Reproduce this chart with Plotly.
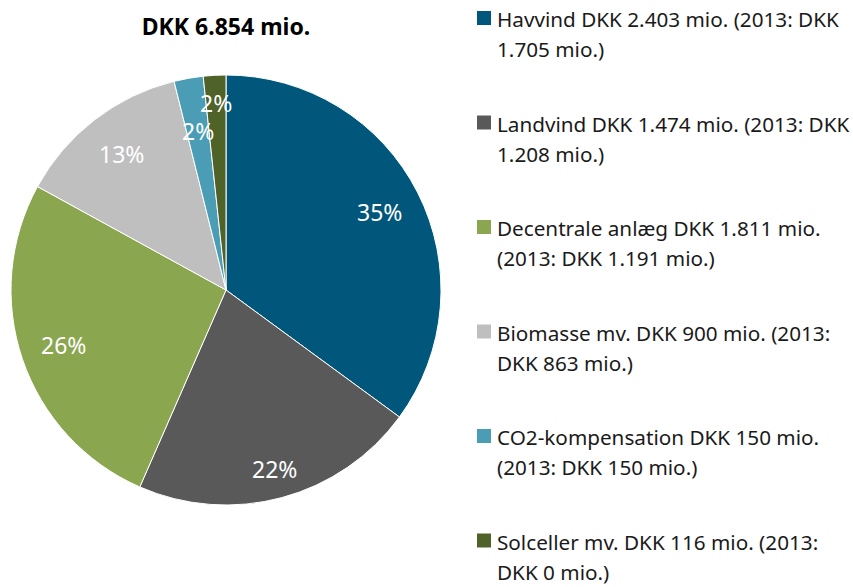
import math
import textwrap
import plotly.graph_objects as go

names = ["Havvind", "Landvind", "Decentrale anlæg", "Biomasse mv.",
         "CO2-kompensation", "Solceller mv."]
values_2014 = [2403, 1474, 1811, 900, 150, 116]
values_2013 = [1705, 1208, 1191, 863, 150, 0]
colors = ["#00577b", "#595959", "#8aa64f", "#bfbfbf", "#4a9db5", "#4f6228"]
total_label = "DKK 6.854 mio."

W, H = 853, 587
# pie geometry in pixels
cx, cy, rad = 226, 290, 215
label_r = [0.8, 0.86, 0.8, 0.8, 0.75, 0.87]


def dkk(v):
    return f"{v:,}".replace(",", ".")


fig = go.Figure()
fig.add_trace(go.Pie(
    labels=names,
    values=values_2014,
    sort=False,
    direction="clockwise",
    rotation=0,
    marker=dict(colors=colors, line=dict(color="white", width=1)),
    textinfo="none",
    domain=dict(x=[(cx - rad) / W, (cx + rad) / W],
                y=[1 - (cy + rad) / H, 1 - (cy - rad) / H]),
    showlegend=False,
    hoverinfo="label+value+percent",
))

# percentage labels, placed at each slice's mid angle
total = sum(values_2014)
cum = 0
for v, rf in zip(values_2014, label_r):
    mid = (cum + v / 2) / total * 2 * math.pi
    cum += v
    px = cx + math.sin(mid) * rad * rf
    py = cy - math.cos(mid) * rad * rf
    fig.add_annotation(
        text=f"{round(v / total * 100)}%", xref="paper", yref="paper",
        x=px / W, y=1 - py / H, xanchor="center", yanchor="middle",
        showarrow=False, font=dict(size=23, color="white", family="Noto Sans"),
    )

# legend drawn as text, one line per annotation
for i, (name, v14, v13, col) in enumerate(zip(names, values_2014, values_2013, colors)):
    label = f"{name} DKK {dkk(v14)} mio. (2013: DKK {dkk(v13)} mio.)"
    lines = textwrap.wrap(label, 34)
    y_top = 18 + i * 104.5
    fig.add_shape(type="rect", xref="paper", yref="paper",
                  x0=477 / W, x1=491 / W,
                  y0=1 - (y_top + 7) / H, y1=1 - (y_top - 7) / H,
                  fillcolor=col, line=dict(width=0))
    for j, line in enumerate(lines):
        fig.add_annotation(
            text=line, xref="paper", yref="paper",
            x=495 / W, y=1 - (y_top + 1 + j * 30) / H,
            xanchor="left", yanchor="middle", showarrow=False,
            font=dict(size=20.7, color="#1a1a1a", family="Noto Sans"),
        )

fig.update_layout(
    width=W, height=H,
    margin=dict(l=0, r=0, t=0, b=0),
    paper_bgcolor="white",
    title=dict(text=f"<b>{total_label}</b>", x=cx / W, xanchor="center",
               y=1 - 27 / H, yanchor="middle",
               font=dict(size=23, color="black", family="Noto Sans")),
)

fig.write_html("out.html", config={"displayModeBar": False},
               post_script="document.body.style.margin='0';")
